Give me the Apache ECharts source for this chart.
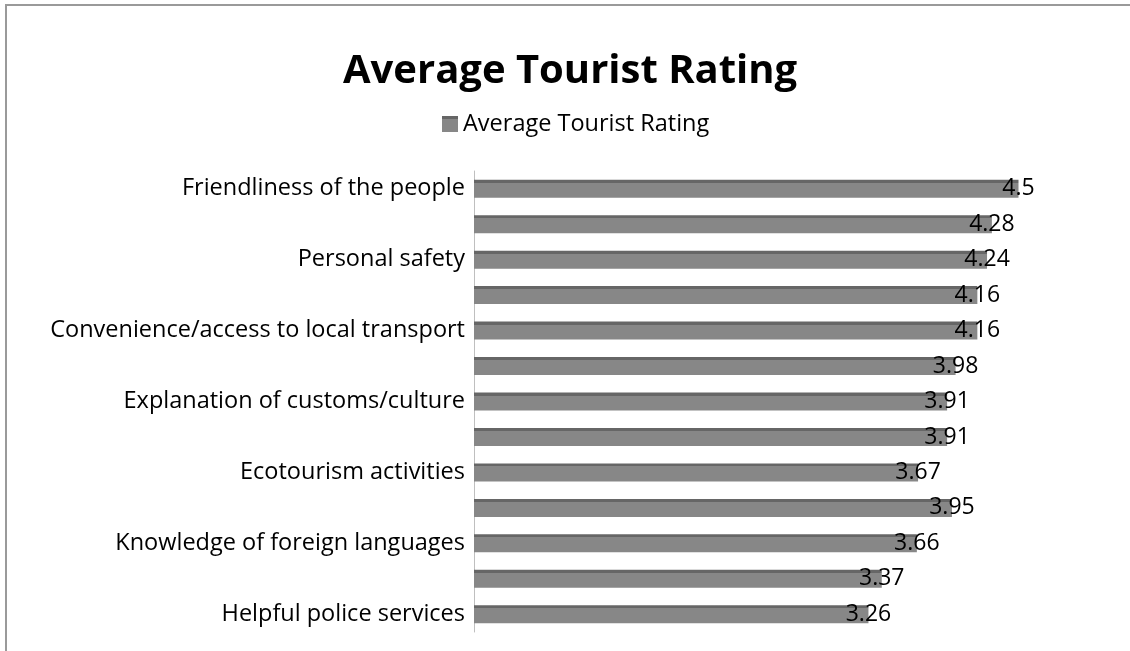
<!DOCTYPE html>
<html>
<head>
<meta charset="utf-8">
<script src="https://cdn.jsdelivr.net/npm/echarts@6/dist/echarts.min.js"></script>
<style>
html,body{margin:0;padding:0;background:#fff;}
#chart{width:1130px;height:651px;}
</style>
</head>
<body>
<div id="chart"></div>
<script>
// Data (top to bottom). Only every other category is labelled in the reference.
const categories = [
  "Friendliness of the people", " ",
  "Personal safety", "  ",
  "Convenience/access to local transport", "   ",
  "Explanation of customs/culture", "    ",
  "Ecotourism activities", "     ",
  "Knowledge of foreign languages", "      ",
  "Helpful police services"
];
const ratings = [4.5, 4.28, 4.24, 4.16, 4.16, 3.98, 3.91, 3.91, 3.67, 3.95, 3.66, 3.37, 3.26];
const seriesName = "Average Tourist Rating";
const titleText = "Average Tourist Rating";

const font = "'Open Sans', sans-serif";
const chart = echarts.init(document.getElementById('chart'), null, {renderer: 'canvas'});
chart.setOption({
  backgroundColor: '#ffffff',
  animation: false,
  title: {
    text: titleText,
    left: 338,
    top: 47,
    textStyle: {fontFamily: font, fontWeight: 'bold', fontSize: 40, color: '#000'}
  },
  legend: {
    data: [seriesName],
    top: 112,
    left: 442,
    padding: 0,
    icon: 'rect',
    itemWidth: 16,
    itemHeight: 16,
    itemGap: 8,
    textStyle: {fontFamily: font, fontSize: 23.5, color: '#000'}
  },
  graphic: [
    {type: 'line', shape: {x1: 5, y1: 5, x2: 1130, y2: 5}, style: {stroke: '#9a9a9a', lineWidth: 2}},
    {type: 'line', shape: {x1: 6, y1: 5, x2: 6, y2: 651}, style: {stroke: '#9a9a9a', lineWidth: 2}}
  ],
  grid: {left: 474, right: 51, top: 171, bottom: 19, containLabel: false},
  xAxis: {
    type: 'value', min: 0, max: 5, show: false,
    splitLine: {show: false}
  },
  yAxis: {
    type: 'category',
    data: categories,
    inverse: true,
    axisTick: {show: false},
    axisLine: {show: true, lineStyle: {color: '#bfbfbf', width: 1}},
    axisLabel: {interval: 1, margin: 9, fontFamily: font, fontSize: 23.5, color: '#000'}
  },
  series: [{
    name: seriesName,
    type: 'bar',
    data: ratings,
    barWidth: 18,
    itemStyle: {
      color: new echarts.graphic.LinearGradient(0, 0, 0, 1, [
        {offset: 0, color: '#666666'},
        {offset: 0.17, color: '#666666'},
        {offset: 0.17, color: '#878787'},
        {offset: 1, color: '#878787'}
      ])
    },
    label: {
      show: true,
      position: ['100%', '50%'],
      align: 'center',
      verticalAlign: 'middle',
      fontFamily: font,
      fontSize: 23,
      color: '#000'
    }
  }]
});
</script>
</body>
</html>
